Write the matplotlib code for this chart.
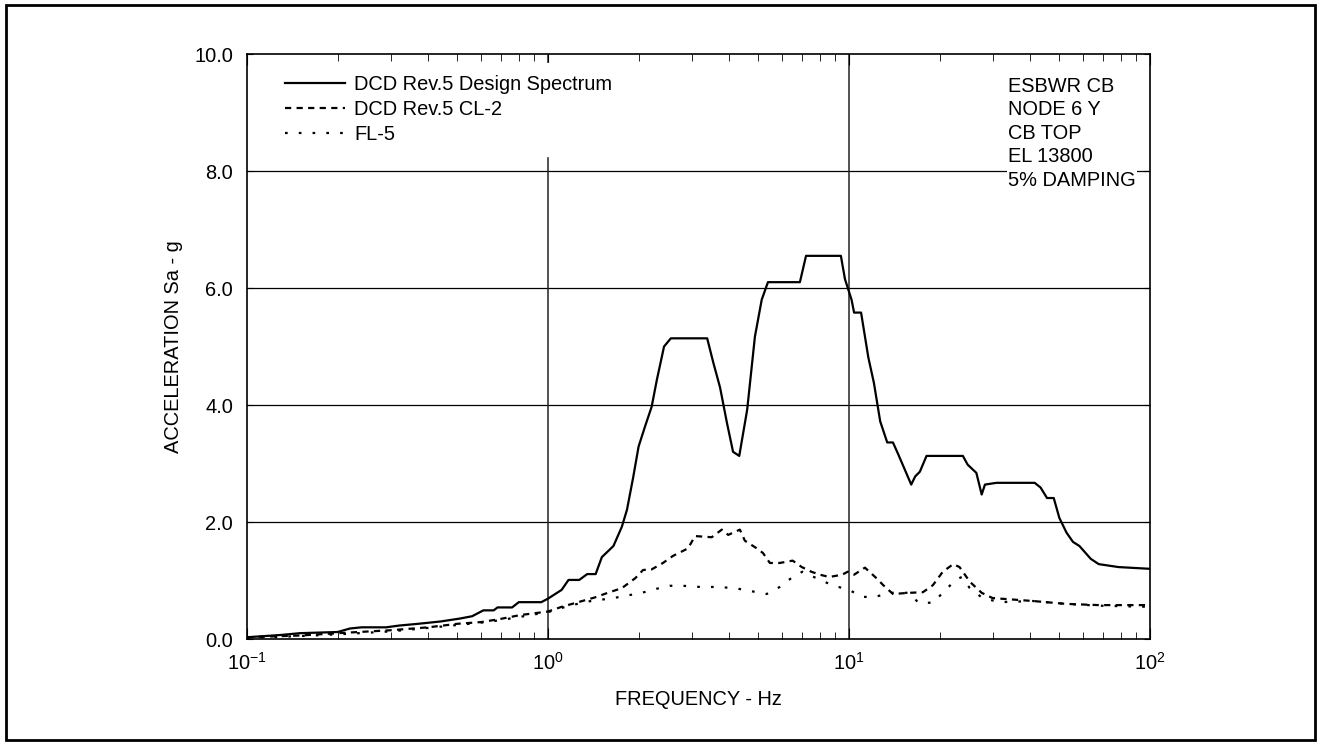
#!/usr/bin/env python3
"""
ESBWR CB floor response spectrum - node 6 Y, CB top.
"""

import matplotlib
matplotlib.use("Agg")
import matplotlib.pyplot as plt
import matplotlib.patches as mpatches
from matplotlib.ticker import FixedLocator, FormatStrFormatter

plt.rcParams['font.family'] = ['Liberation Sans', 'DejaVu Sans']
plt.rcParams['axes.unicode_minus'] = False

# DCD Rev.5 design spectrum
freq_design = [0.10, 0.13, 0.15, 0.20, 0.22, 0.24, 0.29, 0.32, 0.37, 0.44,
               0.51, 0.56, 0.61, 0.66, 0.68, 0.76, 0.80, 0.95, 1.00, 1.05,
               1.11, 1.17, 1.27, 1.35, 1.44, 1.51, 1.65, 1.76, 1.83, 1.92,
               2.00, 2.10, 2.21, 2.30, 2.43, 2.56, 3.38, 3.54, 3.73, 3.93,
               4.12, 4.32, 4.59, 4.87, 5.13, 5.38, 6.87, 7.20, 9.40, 9.70,
               10.2, 10.4, 10.97, 11.6, 12.1, 12.7, 13.4, 14.0, 14.6, 16.1,
               16.6, 17.2, 18.1, 23.9, 24.8, 26.5, 27.6, 28.3, 30.9, 41.4,
               43.3, 45.5, 47.9, 50.0, 52.8, 55.5, 58.3, 63.6, 67.6, 78.6,
               100.0]
acc_design = [0.03, 0.07, 0.10, 0.12, 0.18, 0.20, 0.20, 0.23, 0.26, 0.30,
              0.35, 0.39, 0.49, 0.49, 0.54, 0.54, 0.63, 0.63, 0.69, 0.76,
              0.84, 1.01, 1.01, 1.11, 1.11, 1.40, 1.59, 1.92, 2.21, 2.77,
              3.29, 3.63, 3.97, 4.43, 5.00, 5.14, 5.14, 4.73, 4.30, 3.70,
              3.20, 3.13, 3.92, 5.17, 5.80, 6.10, 6.10, 6.55, 6.55, 6.15,
              5.80, 5.58, 5.58, 4.81, 4.38, 3.72, 3.36, 3.36, 3.15, 2.64,
              2.78, 2.86, 3.13, 3.13, 2.98, 2.84, 2.47, 2.64, 2.67, 2.67,
              2.59, 2.41, 2.41, 2.07, 1.82, 1.66, 1.59, 1.37, 1.28, 1.23,
              1.20]

# DCD Rev.5 CL-2
freq_cl2 = [0.10, 0.15, 0.20, 0.30, 0.40, 0.50, 0.60, 0.69, 0.81, 1.00,
            1.11, 1.28, 1.43, 1.58, 1.76, 1.95, 2.07, 2.21, 2.41, 2.60,
            2.92, 3.08, 3.50, 3.78, 3.97, 4.34, 4.51, 4.94, 5.18, 5.46,
            5.89, 6.50, 6.97, 7.50, 8.00, 8.60, 9.50, 9.90, 10.4, 11.3,
            12.4, 13.0, 14.0, 15.9, 17.6, 19.0, 20.5, 22.2, 23.3, 25.2,
            27.6, 30.0, 40.8, 52.8, 67.6, 100.0]
acc_cl2 = [0.03, 0.06, 0.10, 0.15, 0.20, 0.26, 0.29, 0.34, 0.41, 0.47,
           0.55, 0.64, 0.71, 0.79, 0.87, 1.04, 1.18, 1.19, 1.30, 1.42,
           1.55, 1.76, 1.74, 1.87, 1.78, 1.87, 1.68, 1.55, 1.47, 1.30,
           1.30, 1.34, 1.23, 1.15, 1.10, 1.06, 1.10, 1.15, 1.10, 1.22,
           1.03, 0.92, 0.77, 0.79, 0.80, 0.92, 1.15, 1.28, 1.23, 0.98,
           0.79, 0.70, 0.65, 0.60, 0.58, 0.58]

# FL-5
freq_fl5 = [0.10, 0.15, 0.20, 0.30, 0.40, 0.50, 0.60, 0.69, 0.81, 1.00,
            1.16, 1.35, 1.65, 2.05, 2.30, 2.54, 2.81, 3.20, 3.73, 4.28,
            4.94, 5.33, 5.89, 6.50, 7.00, 7.80, 8.80, 10.0, 11.1, 12.2,
            13.7, 15.9, 17.0, 19.0, 20.5, 22.6, 23.7, 25.2, 27.8, 31.7,
            40.8, 52.8, 67.6, 100.0]
acc_fl5 = [0.02, 0.05, 0.08, 0.13, 0.19, 0.24, 0.28, 0.32, 0.38, 0.46,
           0.56, 0.64, 0.70, 0.79, 0.86, 0.91, 0.91, 0.89, 0.89, 0.86,
           0.80, 0.77, 0.89, 1.06, 1.15, 1.04, 0.92, 0.84, 0.72, 0.72,
           0.79, 0.79, 0.62, 0.62, 0.79, 1.01, 1.06, 0.87, 0.70, 0.63,
           0.65, 0.60, 0.57, 0.55]

SERIES_LABELS = ['DCD Rev.5 Design Spectrum', 'DCD Rev.5 CL-2', 'FL-5']
INFO_LINES = ['ESBWR CB', 'NODE 6 Y', 'CB TOP', 'EL 13800', '5% DAMPING']
Y_TICKS = [0, 2, 4, 6, 8, 10]
Y_GRID = [2, 4, 6, 8]
X_GRID = [1, 10]

FS = 14.4


def create_spectrum_chart(output_path):
    fig = plt.figure(figsize=(13.18, 7.44), dpi=100)
    ax = fig.add_axes([0.1874, 0.1411, 0.6851, 0.7863])

    # outer frame around the whole sheet
    fig.patches.append(mpatches.Rectangle((0.0048, 0.0054), 0.9927, 0.9879,
                                          transform=fig.transFigure, fill=False,
                                          edgecolor='black', linewidth=2.0))

    for y in Y_GRID:
        ax.axhline(y, color='black', linewidth=0.9, zorder=1)
    for x in X_GRID:
        ax.axvline(x, color='#222222', linewidth=1.1, zorder=1)

    ax.plot(freq_design, acc_design, color='black', linewidth=1.6,
            label=SERIES_LABELS[0], zorder=3)
    ax.plot(freq_cl2, acc_cl2, color='black', linewidth=1.6,
            linestyle=(0, (2.8, 2.4)), label=SERIES_LABELS[1], zorder=3)
    ax.plot(freq_fl5, acc_fl5, color='black', linewidth=1.6,
            linestyle=(0, (1.2, 5.0)), label=SERIES_LABELS[2], zorder=3)

    ax.set_xscale('log')
    ax.set_xlim(0.1, 100)
    ax.set_ylim(0, 10)
    ax.yaxis.set_major_locator(FixedLocator(Y_TICKS))
    ax.yaxis.set_major_formatter(FormatStrFormatter('%.1f'))
    ax.tick_params(axis='both', which='both', direction='in', top=True,
                   right=True, labelsize=FS, colors='black')
    ax.tick_params(axis='x', which='major', length=8, pad=9)
    ax.tick_params(axis='x', which='minor', length=5)
    ax.tick_params(axis='y', which='major', length=4, pad=10)
    for sp in ax.spines.values():
        sp.set_linewidth(1.2)

    ax.set_xlabel('FREQUENCY - Hz', fontsize=FS, labelpad=12)
    ax.set_ylabel('ACCELERATION Sa - g', fontsize=FS, labelpad=8)

    leg = ax.legend(loc='upper left', bbox_to_anchor=(0.029, 0.985),
                    borderaxespad=0, fontsize=FS, frameon=True,
                    fancybox=False, framealpha=1, edgecolor='white',
                    handlelength=3.0, handletextpad=0.45, labelspacing=0.3,
                    borderpad=0.6)
    leg.set_zorder(5)

    ax.text(0.843, 0.961, '\n'.join(INFO_LINES), transform=ax.transAxes,
            fontsize=FS, ha='left', va='top', linespacing=1.3, zorder=5,
            bbox=dict(facecolor='white', edgecolor='none', pad=1))

    fig.savefig(output_path, dpi=100, facecolor='white')
    plt.close(fig)


def main():
    create_spectrum_chart('out.png')


if __name__ == "__main__":
    main()
